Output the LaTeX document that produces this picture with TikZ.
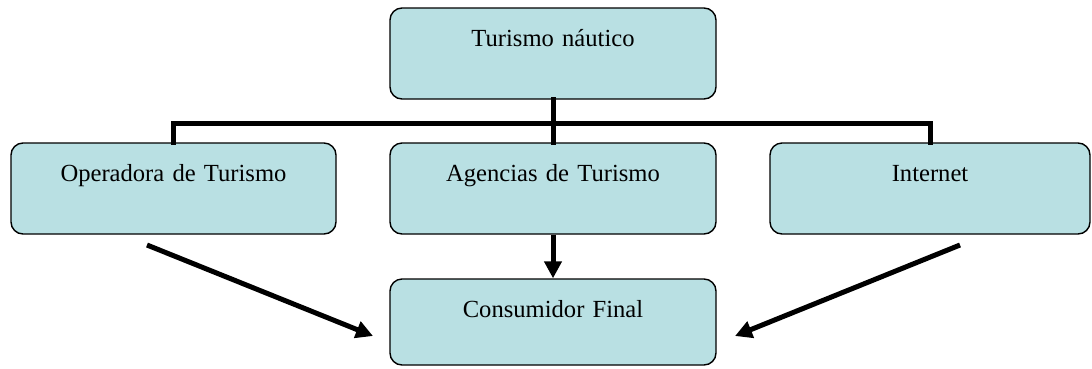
\documentclass[tikz,border=0pt]{standalone}
\usepackage{fontspec}
\setmainfont{Liberation Serif}
\usetikzlibrary{arrows.meta}
\definecolor{boxfill}{RGB}{185,224,227}
\tikzset{
  box/.style={draw=black, line width=1.4pt, fill=boxfill, rounded corners=12pt,
    inner sep=0pt, text width=#1, align=center, text height=38pt, text depth=53pt,
    font=\fontsize{24.6}{29}\selectfont},
  box/.default=326pt,
  conn/.style={line width=5pt, line join=miter, line cap=rect},
  arr/.style={line width=5pt, -{Triangle[length=17pt,width=17pt]}}
}
\begin{document}
\begin{tikzpicture}[x=1pt,y=-1pt]
\useasboundingbox (0,0) rectangle (1092,368);
\node[box] (top) at (553,53.5) {Turismo náutico};
\node[box=325pt] (op) at (173.5,188.5) {Operadora de Turismo};
\node[box] (ag) at (553,188.5) {Agencias de Turismo};
\node[box=320pt] (in) at (930,188.5) {Internet};
\node[box, text depth=48pt] (cons) at (553,322) {Consumidor Final};
\coordinate (bar) at (553,123);
\coordinate (opArr) at (147,245);
\coordinate (inArr) at (960,245);
\coordinate (consL) at (373,336);
\coordinate (consR) at (735,336);
\draw[conn] (top.south) -- (ag.north);
\draw[conn] (op.north) |- (bar) -| (in.north);
\draw[arr] (ag.south) -- (cons.north);
\draw[arr] (opArr) -- (consL);
\draw[arr] (inArr) -- (consR);
\end{tikzpicture}
\end{document}
